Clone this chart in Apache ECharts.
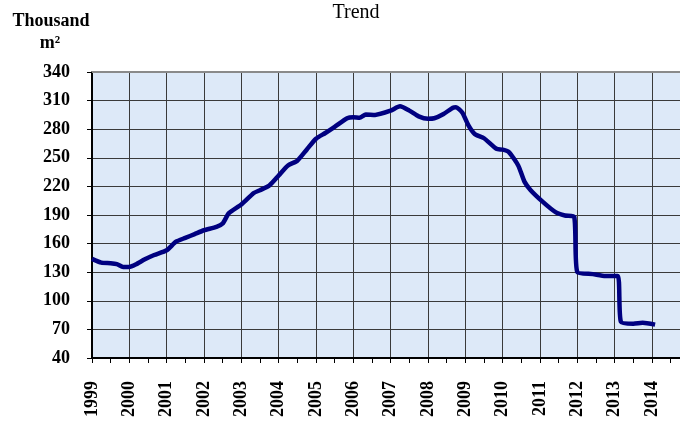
<!DOCTYPE html>
<html>
<head>
<meta charset="utf-8">
<script src="https://cdn.jsdelivr.net/npm/echarts@6/dist/echarts.min.js"></script>
<style>
  html, body { margin: 0; padding: 0; background: #fff; }
  #chart { width: 680px; height: 421px; }
</style>
</head>
<body>
<div id="chart"></div>
<script>
// 月份 + 数值 (千平方米)
var months = [
  '1999-01', '1999-04', '1999-07', '1999-09', '1999-11',
  '2000-01', '2000-03', '2000-06', '2000-09',
  '2001-01', '2001-04', '2001-07', '2001-10',
  '2002-01', '2002-05', '2002-07', '2002-09',
  '2003-01', '2003-05', '2003-07', '2003-10',
  '2004-01', '2004-04', '2004-07', '2004-10',
  '2005-01', '2005-04', '2005-07', '2005-11',
  '2006-01', '2006-03', '2006-05', '2006-08',
  '2007-01', '2007-04', '2007-07', '2007-10',
  '2008-01', '2008-03', '2008-06', '2008-09', '2008-10', '2008-12',
  '2009-02', '2009-04', '2009-07', '2009-11',
  '2010-01', '2010-03', '2010-06', '2010-08', '2010-10',
  '2011-02', '2011-06', '2011-09', '2011-12',
  '2012-01', '2012-06', '2012-10',
  '2013-02', '2013-03', '2013-07', '2013-10',
  '2014-02'
];
var values = [
  144, 140, 139.5, 138.5, 135.5,
  135.5, 138, 143.5, 148,
  153, 162, 166, 170,
  174, 177.5, 181, 192,
  201, 213, 216, 221,
  231.5, 242, 247, 258.5,
  270, 276, 282.5, 291.5,
  292.5, 292, 295.5, 295,
  299.5, 304, 299.5, 293.5,
  291, 291.5, 296, 302.5, 303, 297.5,
  284, 275, 270.5, 259.5,
  258.5, 256, 242, 225, 216,
  203.5, 193, 189.5, 188,
  130, 128, 126,
  126, 78, 76, 77,
  75
];
var yTicks = [40, 70, 100, 130, 160, 190, 220, 250, 280, 310, 340];
var firstYear = 1999;

var lineData = months.map(function (m, i) {
  var p = m.split('-');
  return [Number(p[0]) + (Number(p[1]) - 1) / 12, values[i]];
});

var chart = echarts.init(document.getElementById('chart'));

var serif = 'Liberation Serif';

var option = {
  animation: false,
  graphic: [
    {
      type: 'text', x: 356, y: 3,
      style: { text: 'Trend', font: '20px "' + serif + '"', fill: '#000', textAlign: 'center', textVerticalAlign: 'top' }
    },
    {
      type: 'text', x: 51, y: 12,
      style: { text: 'Thousand', font: 'bold 18px "' + serif + '"', fill: '#000', textAlign: 'center', textVerticalAlign: 'top' }
    },
    {
      type: 'text', x: 50, y: 34,
      style: { text: 'm²', font: 'bold 18px "' + serif + '"', fill: '#000', textAlign: 'center', textVerticalAlign: 'top' }
    }
  ],
  grid: {
    left: 92,
    right: 0,
    top: 72,
    bottom: 63,
    show: true,
    backgroundColor: '#dde9f8',
    borderWidth: 0
  },
  xAxis: [{
    type: 'value',
    min: firstYear,
    max: 2014.75,
    interval: 1,
    axisLine: { lineStyle: { color: '#000', width: 2 } },
    axisTick: { length: 5, lineStyle: { color: '#000' } },
    minorTick: { show: true, splitNumber: 2, length: 5, lineStyle: { color: '#000' } },
    splitLine: { show: true, lineStyle: { color: '#3a3a3a', width: 1 } },
    axisLabel: {
      rotate: 90,
      margin: 23,
      showMaxLabel: false,
      fontFamily: serif,
      fontWeight: 'bold',
      fontSize: 18,
      color: '#000',
      formatter: function (v) { return v % 1 === 0 ? String(v) : ''; }
    }
  }, {
    // 顶部灰色边框
    type: 'value',
    position: 'top',
    min: firstYear,
    max: 2014.75,
    axisLine: { show: true, lineStyle: { color: '#8a8a8a', width: 2 } },
    axisTick: { show: false },
    axisLabel: { show: false },
    splitLine: { show: false }
  }],
  yAxis: {
    type: 'value',
    min: yTicks[0],
    max: yTicks[yTicks.length - 1],
    interval: 30,
    axisLine: { show: true, lineStyle: { color: '#000', width: 2 } },
    axisTick: { show: true, length: 5, lineStyle: { color: '#000' } },
    splitLine: { show: true, lineStyle: { color: '#3a3a3a', width: 1 } },
    axisLabel: {
      margin: 22,
      fontFamily: serif,
      fontWeight: 'bold',
      fontSize: 18,
      color: '#000'
    }
  },
  series: [{
    type: 'line',
    data: lineData,
    smooth: 0.2,
    showSymbol: false,
    lineStyle: { color: '#000080', width: 4.5 },
    z: 5
  }]
};

chart.setOption(option);
</script>
</body>
</html>
